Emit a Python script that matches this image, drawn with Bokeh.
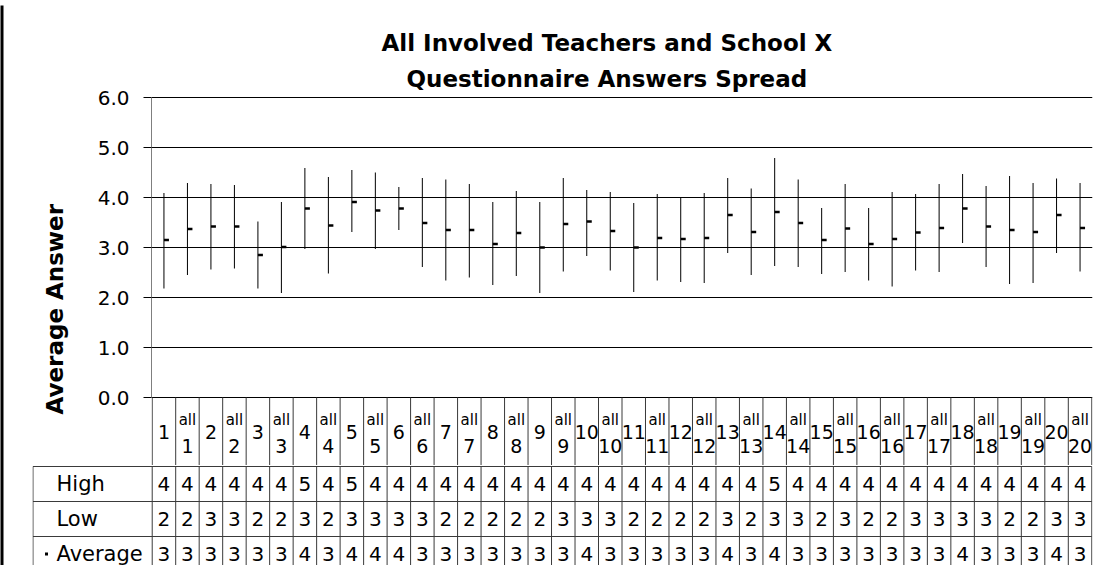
from bokeh.plotting import figure
from bokeh.models import Range1d, FixedTicker, PrintfTickFormatter, Title, ColumnDataSource
from bokeh.layouts import column, row
from bokeh.embed import file_html
from bokeh.resources import INLINE
from bokeh.core.properties import value

# ---------------- data ----------------
categories = ["1", "all 1", "2", "all 2", "3", "all 3", "4", "all 4", "5", "all 5",
              "6", "all 6", "7", "all 7", "8", "all 8", "9", "all 9", "10", "all 10",
              "11", "all 11", "12", "all 12", "13", "all 13", "14", "all 14", "15", "all 15",
              "16", "all 16", "17", "all 17", "18", "all 18", "19", "all 19", "20", "all 20"]
high = [4.09, 4.29, 4.27, 4.25, 3.52, 3.91, 4.59, 4.41, 4.55, 4.50,
        4.21, 4.39, 4.36, 4.27, 3.91, 4.13, 3.91, 4.39, 4.15, 4.11,
        3.89, 4.07, 3.99, 4.09, 4.39, 4.18, 4.79, 4.36, 3.79, 4.27,
        3.79, 4.11, 4.07, 4.27, 4.47, 4.23, 4.43, 4.29, 4.38, 4.29]
low = [2.18, 2.45, 2.56, 2.58, 2.18, 2.09, 2.97, 2.48, 3.31, 2.97,
       3.35, 2.61, 2.34, 2.40, 2.25, 2.43, 2.09, 2.52, 2.83, 2.54,
       2.11, 2.34, 2.31, 2.29, 2.89, 2.45, 2.63, 2.61, 2.47, 2.51,
       2.34, 2.22, 2.54, 2.51, 3.09, 2.61, 2.27, 2.29, 2.89, 2.52]
average = [3.15, 3.37, 3.42, 3.42, 2.85, 3.01, 3.78, 3.44, 3.91, 3.74,
           3.78, 3.49, 3.35, 3.35, 3.07, 3.29, 3.00, 3.47, 3.52, 3.33,
           3.00, 3.19, 3.17, 3.19, 3.65, 3.31, 3.71, 3.49, 3.15, 3.38,
           3.07, 3.17, 3.30, 3.39, 3.78, 3.42, 3.35, 3.31, 3.65, 3.39]
table_high = [4, 4, 4, 4, 4, 4, 5, 4, 5, 4, 4, 4, 4, 4, 4, 4, 4, 4, 4, 4,
              4, 4, 4, 4, 4, 4, 5, 4, 4, 4, 4, 4, 4, 4, 4, 4, 4, 4, 4, 4]
table_low = [2, 2, 3, 3, 2, 2, 3, 2, 3, 3, 3, 3, 2, 2, 2, 2, 2, 3, 3, 3,
             2, 2, 2, 2, 3, 2, 3, 3, 2, 3, 2, 2, 3, 3, 3, 3, 2, 2, 3, 3]
table_average = [3, 3, 3, 3, 3, 3, 4, 3, 4, 4, 4, 3, 3, 3, 3, 3, 3, 3, 4, 3,
                 3, 3, 3, 3, 4, 3, 4, 3, 3, 3, 3, 3, 3, 3, 4, 3, 3, 3, 4, 3]
row_labels = ["High", "Low", "Average"]
y_ticks = [0, 1, 2, 3, 4, 5, 6]
title_lines = ["All Involved Teachers and School X", "Questionnaire Answers Spread"]
y_label = "Average Answer"

# ---------------- layout constants ----------------
FONT = "DejaVu Sans"
BORDER, GAP = 3, 2
ORIGIN_X = ORIGIN_Y = 8 + BORDER + GAP    # page position of the figures
W = 1104 - ORIGIN_X
H_TOP = 460
H_BOT = 100
FRAME_LEFT_TOP = 159
FRAME_LEFT_BOT = 40
FRAME_RIGHT = 1100
ROW_H = 35.0
PAD = 0.03
N = len(categories)
frame_w = FRAME_RIGHT - FRAME_LEFT_TOP
u = frame_w / (N + 2 * PAD)          # px per category


def dx(page_x):
    return -PAD + (page_x - FRAME_LEFT_TOP) / u


xs = [i + 0.5 for i in range(N)]
bounds_x = list(range(N + 1))

src = ColumnDataSource(dict(x=xs, high=high, low=low, avg=average, cat=categories))

common = dict(output_backend="svg", toolbar_location=None, frame_align=False,
              outline_line_color=None, title=None)

# ---------------- top figure: chart + header row ----------------
top = figure(width=W, height=H_TOP,
             x_range=Range1d(-PAD, N + PAD), y_range=Range1d(-1.36, 6.02),
             x_axis_location=None,
             min_border_left=FRAME_LEFT_TOP - ORIGIN_X, min_border_right=W + ORIGIN_X - FRAME_RIGHT,
             min_border_top=104 - ORIGIN_Y, min_border_bottom=0,
             background_fill_color="white", border_fill_color="white", **common)
top.xgrid.visible = False
top.ygrid.ticker = FixedTicker(ticks=y_ticks)
top.ygrid.bounds = (0, 6)
top.ygrid.grid_line_color = "black"
top.ygrid.grid_line_width = 1

ax = top.yaxis[0]
ax.ticker = FixedTicker(ticks=y_ticks)
ax.bounds = (0, 6)
ax.formatter = PrintfTickFormatter(format="%.1f")
ax.major_label_text_font = FONT
ax.major_label_text_font_size = "20px"
ax.major_label_text_color = "black"
ax.major_label_standoff = 14
ax.major_tick_out = 8
ax.major_tick_in = 0
ax.major_tick_line_color = "black"
ax.minor_tick_line_color = None
ax.axis_line_color = "#7f7f7f"

top.add_layout(Title(text=y_label, align="left", offset=51, standoff=54, text_font=FONT,
                     text_font_size="23px", text_font_style="bold", text_color="black"), "left")
top.add_layout(Title(text=title_lines[1], align="left", offset=255, standoff=10, text_font=FONT,
                     text_font_size="23px", text_font_style="bold", text_color="black"), "above")
top.add_layout(Title(text=title_lines[0], align="left", offset=230, standoff=6, text_font=FONT,
                     text_font_size="23px", text_font_style="bold", text_color="black"), "above")

# high-low lines and average ticks
top.segment(x0="x", x1="x", y0="low", y1="high", source=src, line_color="black", line_width=1)
top.ray(x="x", y="avg", length=5, length_units="screen", angle=0, source=src,
        line_color="black", line_width=2.5)

# header row of data table
top.segment(x0=bounds_x, x1=bounds_x, y0=0, y1=-1.36, line_color="#3a3a3a", line_width=1)
single_x = [x for x, c in zip(xs, categories) if not c.startswith("all")]
single_t = [c for c in categories if not c.startswith("all")]
all_x = [x for x, c in zip(xs, categories) if c.startswith("all")]
all_word = [c.split()[0] for c in categories if c.startswith("all")]
all_num = [c.split()[1] for c in categories if c.startswith("all")]
top.text(x=single_x, y=-0.68, text=single_t, text_align="center", text_baseline="middle",
         text_font=value(FONT), text_font_size="19px", text_color="black")
top.text(x=all_x, y=-0.44, text=all_word, text_align="center", text_baseline="middle",
         text_font=value(FONT), text_font_size="15px", text_color="black")
top.text(x=all_x, y=-0.96, text=all_num, text_align="center", text_baseline="middle",
         text_font=value(FONT), text_font_size="19px", text_color="black")

# ---------------- bottom figure: data table rows ----------------
xl = dx(FRAME_LEFT_BOT)
bot = figure(width=W, height=H_BOT,
             x_range=Range1d(xl, N + PAD), y_range=Range1d(-(H_BOT - 1) / ROW_H, 1 / ROW_H),
             x_axis_location=None, y_axis_location=None,
             min_border_left=FRAME_LEFT_BOT - ORIGIN_X, min_border_right=W + ORIGIN_X - FRAME_RIGHT,
             min_border_top=0, min_border_bottom=0,
             background_fill_color="white", border_fill_color="white", **common)
bot.grid.visible = False

nrows = len(row_labels)
hy = [-float(k) for k in range(nrows + 1)]
bot.segment(x0=xl + 0.02, x1=N, y0=hy, y1=hy, line_color="#3a3a3a", line_width=1)
vx = [xl + 0.02] + bounds_x
bot.segment(x0=vx, x1=vx, y0=0, y1=-nrows, line_color="#3a3a3a", line_width=1)

row_y = [-(k + 0.5) for k in range(nrows)]
bot.text(x=dx(64), y=row_y, text=row_labels, text_align="left", text_baseline="middle",
         text_font=value(FONT), text_font_size="21px", text_color="black")
bot.rect(x=dx(54), y=row_y[2], width=3, height=3, width_units="screen", height_units="screen",
         fill_color="black", line_color=None)
for k, vals in enumerate([table_high, table_low, table_average]):
    bot.text(x=xs, y=row_y[k], text=[str(v) for v in vals], text_align="center",
             text_baseline="middle", text_font=value(FONT), text_font_size="20px",
             text_color="black")

# ---------------- chart border: black frame areas of thin figures ----------------
hbar = figure(width=W, height=BORDER + GAP, x_axis_location=None,
              y_axis_location=None, min_border_left=0, min_border_right=0, min_border_top=0,
              min_border_bottom=GAP, background_fill_color="black", border_fill_color="white",
              **common)
hbar.grid.visible = False
corner = figure(width=BORDER + GAP, height=BORDER + GAP, x_axis_location=None,
                y_axis_location=None, min_border_left=0, min_border_right=GAP, min_border_top=0,
                min_border_bottom=0, background_fill_color="black", border_fill_color="white",
                **common)
corner.grid.visible = False
vbar = figure(width=BORDER + GAP, height=H_TOP + H_BOT, x_axis_location=None,
              y_axis_location=None, min_border_left=0, min_border_right=GAP, min_border_top=0,
              min_border_bottom=0, background_fill_color="black", border_fill_color="white",
              **common)
vbar.grid.visible = False

layout = row(column(corner, vbar, spacing=0), column(hbar, top, bot, spacing=0), spacing=0)

open("out.html", "w").write(file_html(layout, INLINE))
